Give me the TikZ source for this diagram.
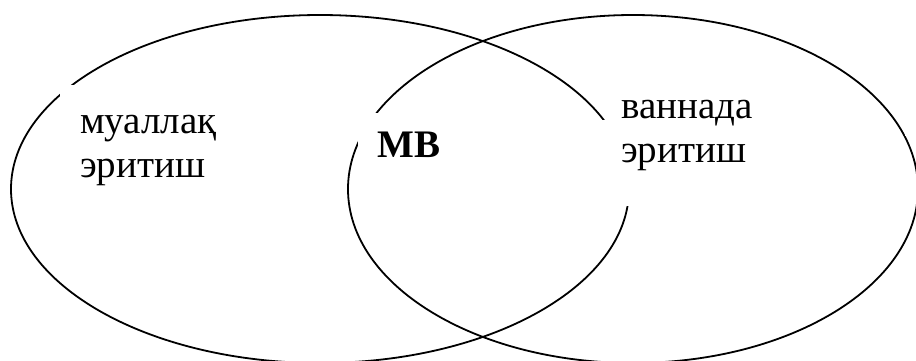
\documentclass[tikz,border=0pt]{standalone}
\usepackage{fontspec}
\setmainfont{Liberation Serif}
\begin{document}
\begin{tikzpicture}[x=1pt,y=-1pt,
  ring/.style={draw=black,line width=1.8pt},
  lbl/.style={anchor=base west,inner sep=0pt,font=\fontsize{39}{47}\selectfont},
  cover/.style={fill=white,draw=none}]
\useasboundingbox (0,0) rectangle (916,360);
% ellipses
\draw[ring] (320,189) ellipse [x radius=309, y radius=174];
\draw[ring] (633,189) ellipse [x radius=285, y radius=174];
% white text boxes that interrupt the outlines
\fill[cover] (60,85) rectangle (220,190);
\fill[cover] (358,113) rectangle (450,170);
\fill[cover] (590,120) rectangle (870,206);
\fill[cover] (905,131) rectangle (916,136);
% labels
\node[lbl] (l1) at (80,133) {муаллақ};
\node[lbl] (l2) at (80,177) {эритиш};
\node[lbl,font=\fontsize{39}{47}\selectfont\bfseries] (mb) at (377,157) {MB};
\node[lbl] (r1) at (621,118) {ваннада};
\node[lbl] (r2) at (621,162) {эритиш};
\end{tikzpicture}
\end{document}
